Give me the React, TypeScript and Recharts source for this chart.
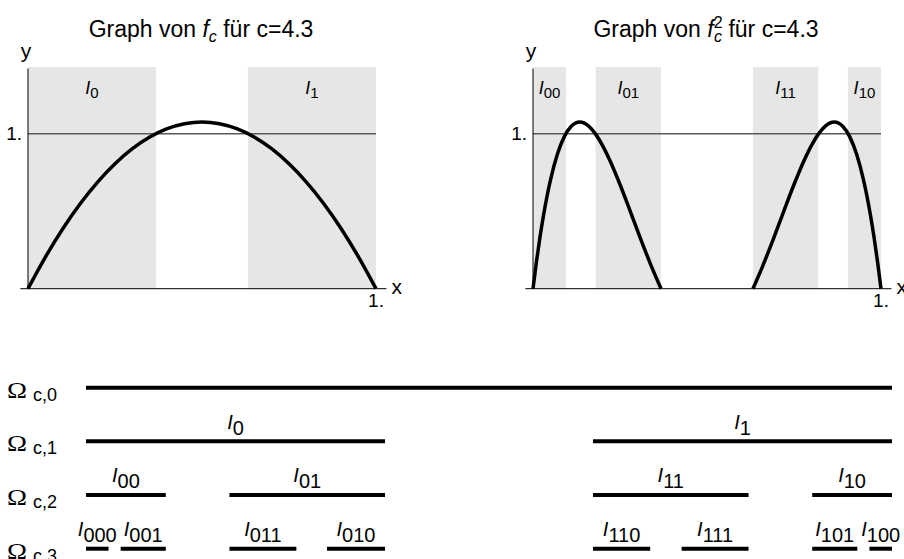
import React from 'react';
import {
  LineChart,
  ComposedChart,
  Line,
  Scatter,
  XAxis,
  YAxis,
  ReferenceArea,
  ReferenceLine,
} from 'recharts';

const SANS = 'Liberation Sans, Arial, Helvetica, sans-serif';
const SERIF = 'Liberation Serif, Times New Roman, serif';

// f_c(x) for c = 4.3, sampled along x
const fcX = [0, 0.05, 0.1, 0.15, 0.2, 0.25, 0.3, 0.35, 0.4, 0.45, 0.5, 0.55, 0.6, 0.65, 0.7, 0.75, 0.8, 0.85, 0.9, 0.95, 1];
const fcY = [0, 0.204, 0.387, 0.548, 0.688, 0.806, 0.903, 0.978, 1.032, 1.064, 1.075, 1.064, 1.032, 0.978, 0.903, 0.806, 0.688, 0.548, 0.387, 0.204, 0];

// f_c^2: two humps, the middle part lies below zero and is not drawn
const fc2LeftX = [0, 0.01, 0.02, 0.03, 0.04, 0.05, 0.07, 0.09, 0.11, 0.134, 0.16, 0.18, 0.2, 0.22, 0.25, 0.28, 0.31, 0.34, 0.368];
const fc2LeftY = [0, 0.175, 0.332, 0.471, 0.593, 0.699, 0.867, 0.981, 1.048, 1.075, 1.049, 0.997, 0.923, 0.832, 0.672, 0.496, 0.317, 0.146, 0];
const fc2RightX = [0.632, 0.66, 0.69, 0.72, 0.75, 0.78, 0.8, 0.82, 0.84, 0.866, 0.89, 0.91, 0.93, 0.95, 0.96, 0.97, 0.98, 0.99, 1];
const fc2RightY = [0, 0.146, 0.317, 0.496, 0.672, 0.832, 0.923, 0.997, 1.049, 1.075, 1.048, 0.981, 0.867, 0.699, 0.593, 0.471, 0.332, 0.175, 0];

type Interval = [string, number, number];

// shaded intervals in the two plots
const shadeLevel1: Interval[] = [['0', 0, 0.368], ['1', 0.632, 1]];
const shadeLevel2: Interval[] = [['00', 0, 0.095], ['01', 0.18, 0.368], ['11', 0.632, 0.82], ['10', 0.905, 1]];

// Omega_{c,n} rows
const omegaRows = [0, 1, 2, 3];
const row0: Interval[] = [['', 0, 1]];
const row1: Interval[] = [['0', 0, 0.371], ['1', 0.629, 1]];
const row2: Interval[] = [['00', 0, 0.099], ['01', 0.178, 0.371], ['11', 0.629, 0.822], ['10', 0.901, 1]];
const row3: Interval[] = [
  ['000', 0, 0.028], ['001', 0.043, 0.099], ['011', 0.178, 0.261], ['010', 0.299, 0.371],
  ['110', 0.629, 0.7], ['111', 0.739, 0.822], ['101', 0.901, 0.957], ['100', 0.972, 1],
];
const rows = [row0, row1, row2, row3];

const yMax = 1.43;

const toPoints = (xs: number[], ys: number[]) => xs.map((x, i) => ({ x, y: ys[i] }));

// italic I with subscript index, centred over a box
function ILabel({ viewBox, name, size, subSize, lift, drop }: any) {
  if (!viewBox || !name) return null;
  const cx = viewBox.x + viewBox.width / 2;
  return (
    <text x={cx} y={viewBox.y + lift} textAnchor="middle" fontFamily={SANS} fontSize={size} fill="#000">
      <tspan fontStyle="italic">I</tspan>
      <tspan fontSize={subSize} dy={drop}>{name}</tspan>
    </text>
  );
}

// label drawn at a segment midpoint
function SegmentLabel({ cx, cy, payload }: any) {
  if (!payload || !payload.name) return null;
  return (
    <text x={cx} y={cy - 12.7} textAnchor="middle" fontFamily={SANS} fontSize={20} fill="#000">
      <tspan fontStyle="italic">I</tspan>
      <tspan dy={6}>{payload.name}</tspan>
    </text>
  );
}

function OmegaTick({ x, y, payload }: any) {
  return (
    <g>
      <text
        x={x - 79}
        y={y + 9.8}
        fontFamily={SERIF}
        fontSize={24}
        textLength={20}
        lengthAdjust="spacingAndGlyphs"
        fill="#000"
      >
        Ω
      </text>
      <text x={x - 53} y={y + 13} fontFamily={SANS} fontSize={18} fill="#000">
        {`c,${payload.value}`}
      </text>
    </g>
  );
}

const axisTick = { fontSize: 19, fill: '#000', fontFamily: SANS };

function plotFrame(shades: Interval[]) {
  return [
    ...shades.map(([name, a, b]) => (
      <ReferenceArea
        key={'s' + name}
        x1={a}
        x2={b}
        y1={0}
        y2={yMax}
        fill="#e6e6e6"
        fillOpacity={1}
        stroke="none"
        label={(p: any) => <ILabel {...p} name={name} size={18} subSize={15} lift={27} drop={4} />}
      />
    )),
    <ReferenceLine key="one" y={1} stroke="#5a5a5a" strokeWidth={1.5} />,
    <ReferenceLine
      key="xaxis"
      segment={[{ x: -0.022, y: 0 }, { x: 1.03, y: 0 }]}
      ifOverflow="visible"
      stroke="#000"
      strokeWidth={1}
      label={(p: any) =>
        p.viewBox ? (
          <text x={p.viewBox.x + p.viewBox.width + 5} y={p.viewBox.y + 5} fontFamily={SANS} fontSize={21} fill="#000">
            x
          </text>
        ) : null
      }
    />,
    <ReferenceLine
      key="yaxis"
      segment={[{ x: 0, y: 0 }, { x: 0, y: 1.42 }]}
      ifOverflow="visible"
      stroke="#000"
      strokeWidth={1}
      label={(p: any) =>
        p.viewBox ? (
          <text x={p.viewBox.x - 2} y={p.viewBox.y - 11} textAnchor="middle" fontFamily={SANS} fontSize={21} fill="#000">
            y
          </text>
        ) : null
      }
    />,
  ];
}

export default function App() {
  const fcData = toPoints(fcX, fcY);
  const leftHump = toPoints(fc2LeftX, fc2LeftY);
  const rightHump = toPoints(fc2RightX, fc2RightY);
  const labelPoints = rows.flatMap((segs, r) =>
    segs.map(([name, a, b]) => ({ x: (a + b) / 2, row: r, name }))
  );

  const xAxis = (
    <XAxis
      type="number"
      dataKey="x"
      domain={[0, 1]}
      ticks={[1]}
      tickFormatter={() => '1.'}
      axisLine={false}
      tickLine={false}
      tickSize={0}
      tickMargin={5}
      height={20}
      tick={axisTick}
    />
  );
  const yAxis = (
    <YAxis
      type="number"
      domain={[0, yMax]}
      ticks={[1]}
      tickFormatter={() => '1.'}
      axisLine={false}
      tickLine={false}
      tickSize={0}
      tickMargin={6}
      width={28}
      tick={axisTick}
    />
  );

  return (
    <div style={{ position: 'absolute', left: 0, top: 0, width: 904, height: 559, background: '#fff', overflow: 'hidden' }}>
      <svg width={904} height={60} style={{ position: 'absolute', left: 0, top: 0 }}>
        <text x={201} y={37} textAnchor="middle" fontFamily={SANS} fontSize={23} fill="#000">
          Graph von <tspan fontStyle="italic">f</tspan>
          <tspan fontSize={16} fontStyle="italic" dy={5}>c</tspan>
          <tspan dy={-5}>{' für c=4.3'}</tspan>
        </text>
        <text x={706} y={37} textAnchor="middle" fontFamily={SANS} fontSize={23} fill="#000">
          Graph von <tspan fontStyle="italic">f</tspan>
          <tspan fontSize={16} dy={-9}>2</tspan>
          <tspan fontSize={16} fontStyle="italic" dx={-8.5} dy={14}>c</tspan>
          <tspan dy={-5}>{' für c=4.3'}</tspan>
        </text>
      </svg>

      <div style={{ position: 'absolute', left: 0, top: 0 }}>
        <LineChart width={420} height={320} data={fcData} margin={{ top: 67, right: 44, bottom: 11.3, left: 0 }}>
          {xAxis}
          {yAxis}
          {plotFrame(shadeLevel1)}
          <Line dataKey="y" type="monotone" stroke="#000" strokeWidth={3.5} dot={false} isAnimationActive={false} />
        </LineChart>
      </div>

      <div style={{ position: 'absolute', left: 505, top: 0 }}>
        <LineChart width={399} height={320} margin={{ top: 67, right: 23, bottom: 11.3, left: 0 }}>
          {xAxis}
          {yAxis}
          {plotFrame(shadeLevel2)}
          <Line data={leftHump} dataKey="y" type="monotone" stroke="#000" strokeWidth={3.5} dot={false} isAnimationActive={false} />
          <Line data={rightHump} dataKey="y" type="monotone" stroke="#000" strokeWidth={3.5} dot={false} isAnimationActive={false} />
        </LineChart>
      </div>

      <div style={{ position: 'absolute', left: 0, top: 330 }}>
        <ComposedChart width={904} height={229} data={labelPoints} margin={{ top: 57.7, right: 12, bottom: 10.3, left: 0 }}>
          <XAxis type="number" dataKey="x" domain={[0, 1]} hide />
          <YAxis
            type="number"
            dataKey="row"
            domain={[0, 3]}
            reversed
            ticks={omegaRows}
            tick={<OmegaTick />}
            axisLine={false}
            tickLine={false}
            tickSize={0}
            tickMargin={0}
            width={86}
          />
          {rows.flatMap((segs, r) =>
            segs.map(([name, a, b]) => (
              <ReferenceLine
                key={`r${r}-${name}`}
                segment={[{ x: a, y: r }, { x: b, y: r }]}
                stroke="#000"
                strokeWidth={4}
              />
            ))
          )}
          <Scatter dataKey="row" shape={<SegmentLabel />} isAnimationActive={false} />
        </ComposedChart>
      </div>
    </div>
  );
}
